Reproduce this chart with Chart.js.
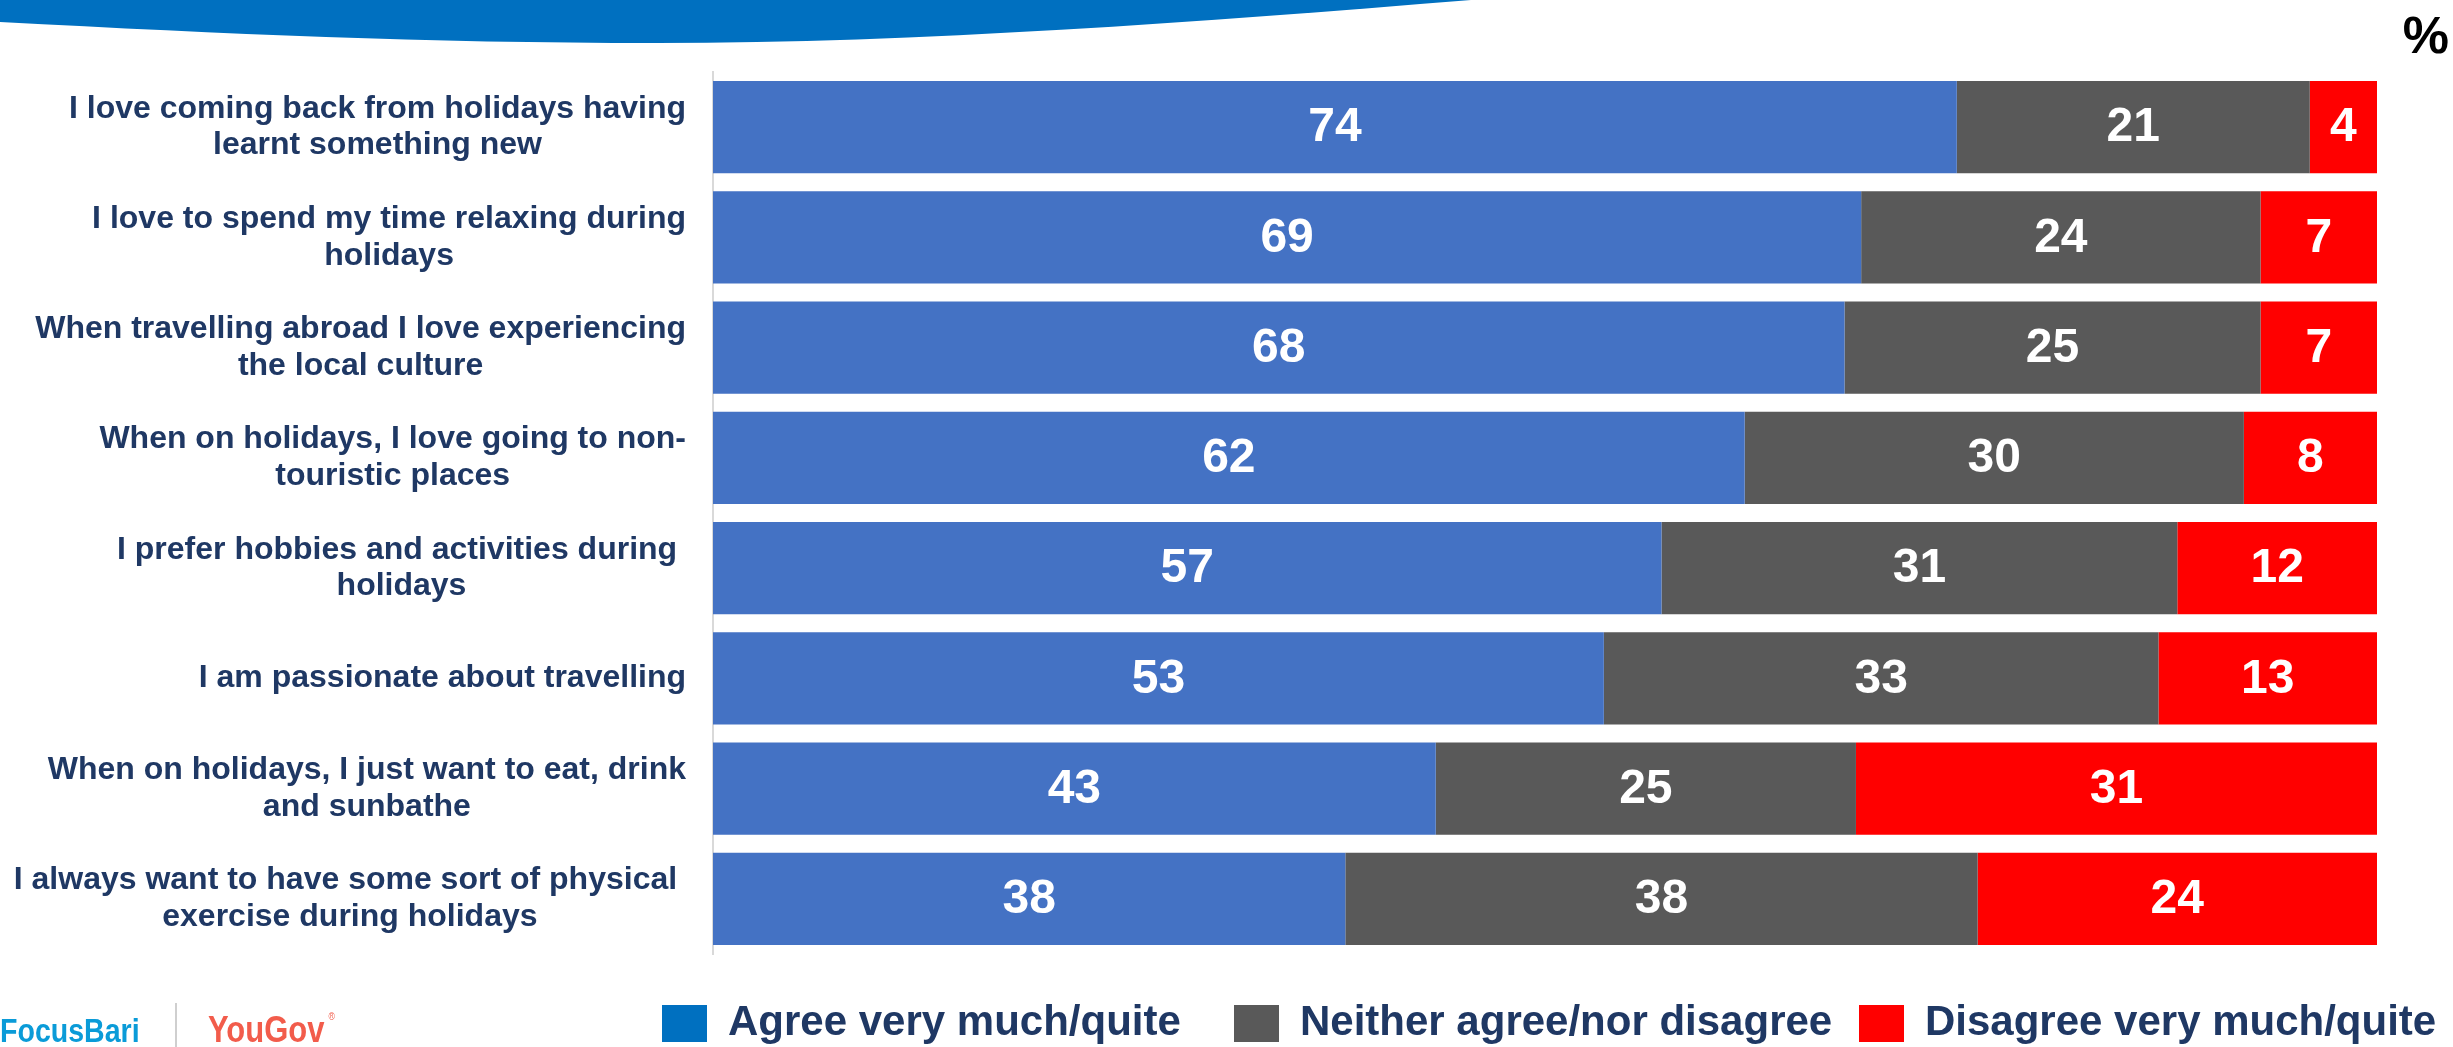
<!DOCTYPE html>
<html><head><meta charset="utf-8">
<script src="https://cdn.jsdelivr.net/npm/chart.js@4.4.1/dist/chart.umd.min.js"></script>
<style>html,body{margin:0;padding:0;background:#fff;overflow:hidden}canvas{display:block}</style>
</head><body>
<canvas id="c" width="2453" height="1047"></canvas>
<script>
const categories = [
  ["I love coming back from holidays having", "learnt something new"],
  ["I love to spend my time relaxing during", "holidays"],
  ["When travelling abroad I love experiencing", "the local culture"],
  ["When on holidays, I love going to non-", "touristic places"],
  ["I prefer hobbies and activities during ", "holidays"],
  ["I am passionate about travelling"],
  ["When on holidays, I just want to eat, drink", "and sunbathe"],
  ["I always want to have some sort of physical ", "exercise during holidays"]
];
const seriesNames = ["Agree very much/quite", "Neither agree/nor disagree", "Disagree very much/quite"];
const agree    = [74, 69, 68, 62, 57, 53, 43, 38];
const neither  = [21, 24, 25, 30, 31, 33, 25, 38];
const disagree = [4, 7, 7, 8, 12, 13, 31, 24];
const unitLabel = "%";

const barColors = ["#4472C4", "#595959", "#FF0000"];
const legendColors = ["#0070C0", "#595959", "#FF0000"];
const FONT = '"Liberation Sans", Arial, Helvetica, sans-serif';
const NAVY = "#1F3864";

const rawSeries = [agree, neither, disagree];
const rowTotals = categories.map((_, i) => rawSeries.reduce((s, a) => s + a[i], 0));
const pct = arr => arr.map((v, i) => v / rowTotals[i] * 100);

Chart.defaults.font.family = FONT;

const decorPlugin = {
  id: 'decor',
  afterDraw(chart) {
    const ctx = chart.ctx;
    ctx.save();
    // top banner wave
    ctx.fillStyle = "#0070C0";
    ctx.beginPath();
    ctx.moveTo(0, 0);
    ctx.lineTo(1471, 0);
    ctx.bezierCurveTo(1200, 22, 920, 43, 657, 43);
    ctx.bezierCurveTo(420, 43, 230, 34, 0, 22);
    ctx.closePath();
    ctx.fill();
    // unit label
    ctx.fillStyle = "#000";
    ctx.font = "bold 52px " + FONT;
    ctx.textAlign = "right";
    ctx.textBaseline = "alphabetic";
    ctx.fillText(unitLabel, 2449, 53);
    // category labels (block right-aligned, lines centred)
    const y = chart.scales.y;
    ctx.font = "bold 32px " + FONT;
    ctx.fillStyle = NAVY;
    ctx.textAlign = "center";
    ctx.textBaseline = "middle";
    const lh = 36.7;
    const rightEdge = 686;
    categories.forEach((lines, i) => {
      const cy = y.getPixelForTick(i);
      const widest = Math.max(...lines.map(l => ctx.measureText(l).width));
      const cx = rightEdge - widest / 2;
      lines.forEach((l, k) => {
        const ly = cy + (k - (lines.length - 1) / 2) * lh;
        ctx.fillText(l, cx, ly);
      });
    });
    // legend
    ctx.font = "bold 42px " + FONT;
    ctx.textAlign = "left";
    ctx.textBaseline = "middle";
    const legendX = [662, 1234, 1859];
    const boxW = 45, boxH = 37, boxTop = 1005, textY = 1023;
    chart.data.datasets.forEach((ds, k) => {
      const lx = legendX[k];
      ctx.fillStyle = legendColors[k];
      ctx.fillRect(lx, boxTop, boxW, boxH);
      ctx.fillStyle = NAVY;
      ctx.fillText(ds.label, lx + 66, textY);
    });
    // logos
    ctx.textAlign = "left";
    ctx.textBaseline = "alphabetic";
    ctx.save();
    ctx.translate(0, 1042);
    ctx.scale(0.84, 1);
    ctx.fillStyle = "#0A9BD8";
    ctx.font = "bold 34px " + FONT;
    ctx.fillText("FocusBari", 0, 0);
    ctx.restore();
    ctx.strokeStyle = "#BFBFBF";
    ctx.lineWidth = 1.5;
    ctx.beginPath();
    ctx.moveTo(176, 1003);
    ctx.lineTo(176, 1047);
    ctx.stroke();
    ctx.save();
    ctx.translate(208, 1042);
    ctx.scale(0.86, 1);
    ctx.fillStyle = "#F25C4B";
    ctx.font = "bold 36px " + FONT;
    ctx.fillText("YouGov", 0, 0);
    ctx.font = "10px " + FONT;
    ctx.fillText("\u00AE", 140, -22);
    ctx.restore();
    ctx.restore();
  }
};

const valueLabels = {
  id: 'valueLabels',
  afterDatasetsDraw(chart) {
    const ctx = chart.ctx;
    ctx.save();
    ctx.fillStyle = "#FFFFFF";
    ctx.font = "bold 48px " + FONT;
    ctx.textAlign = "center";
    ctx.textBaseline = "middle";
    chart.data.datasets.forEach((ds, di) => {
      const meta = chart.getDatasetMeta(di);
      meta.data.forEach((bar, i) => {
        const cx = (bar.x + bar.base) / 2;
        ctx.fillText(String(rawSeries[di][i]), cx, bar.y + 1);
      });
    });
    ctx.restore();
  }
};

new Chart(document.getElementById('c'), {
  type: 'bar',
  data: {
    labels: categories,
    datasets: seriesNames.map((name, k) => ({
      label: name,
      data: pct(rawSeries[k]),
      backgroundColor: barColors[k],
      borderWidth: 0,
      barPercentage: 1,
      categoryPercentage: 0.835
    }))
  },
  options: {
    indexAxis: 'y',
    responsive: false,
    devicePixelRatio: 1,
    animation: false,
    layout: { padding: { top: 72, right: 76, left: 0, bottom: 93 } },
    scales: {
      x: { stacked: true, min: 0, max: 100, display: false },
      y: {
        stacked: true,
        ticks: { display: false },
        grid: { display: false },
        border: { display: true, color: '#D9D9D9', width: 2 },
        afterFit: s => { s.width = 713; }
      }
    },
    plugins: {
      tooltip: { enabled: false },
      legend: { display: false }
    }
  },
  plugins: [valueLabels, decorPlugin]
});
</script>
</body></html>
